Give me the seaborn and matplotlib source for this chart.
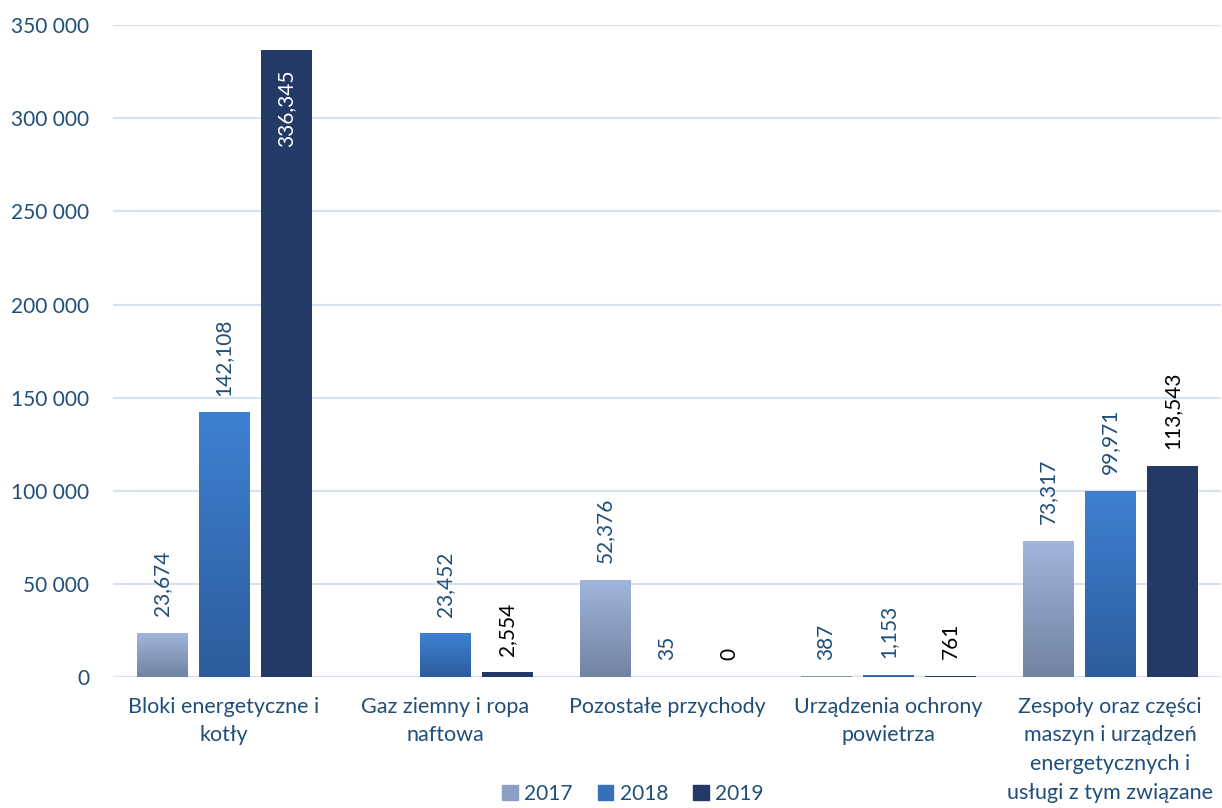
import numpy as np
import pandas as pd
import matplotlib
matplotlib.use("Agg")
import matplotlib.pyplot as plt
import matplotlib.patches as mpatches
from matplotlib.colors import LinearSegmentedColormap
import seaborn as sns

# dane
kategorie = ["Bloki energetyczne i\nkotły",
             "Gaz ziemny i ropa\nnaftowa",
             "Pozostałe przychody",
             "Urządzenia ochrony\npowietrza",
             "Zespoły oraz części\nmaszyn i urządzeń\nenergetycznych i\nusługi z tym związane"]
lata = ["2017", "2018", "2019"]
w2017 = [23674, 0, 52376, 387, 73317]
w2018 = [142108, 23452, 35, 1153, 99971]
w2019 = [336345, 2554, 0, 761, 113543]
etykiety_2017 = ["23,674", "", "52,376", "387", "73,317"]
etykiety_2018 = ["142,108", "23,452", "35", "1,153", "99,971"]
etykiety_2019 = ["336,345", "2,554", "0", "761", "113,543"]
y_ticks = [0, 50000, 100000, 150000, 200000, 250000, 300000, 350000]

df = pd.DataFrame({
    "kategoria": kategorie * 3,
    "rok": [r for r in lata for _ in kategorie],
    "wartosc": w2017 + w2018 + w2019,
})

# kolory (gradient gora -> dol)
gradienty = {
    "2017": ("#A1B6DD", "#7283A2"),
    "2018": ("#3E81D2", "#2D5C9C"),
    "2019": ("#233A66", "#233A66"),
}
paleta = {r: gradienty[r][0] for r in lata}
niebieski_tekst = "#1F4E79"

sns.set_theme(style="white")
plt.rcParams["font.family"] = ["Lato", "DejaVu Sans"]

fig = plt.figure(figsize=(12.22, 8.08), dpi=100)
ax = fig.add_axes([0.0925, 0.162, 0.9065, 0.807])

sns.barplot(data=df, x="kategoria", y="wartosc", hue="rok", palette=paleta,
            width=0.84, gap=0.19, ax=ax, legend=False, linewidth=0)

ax.set_ylim(0, 350000)
xlim = ax.get_xlim()

# gradient na slupkach
for rok, cont in zip(lata, ax.containers):
    cmap = LinearSegmentedColormap.from_list(rok, [gradienty[rok][1], gradienty[rok][0]])
    for p in cont.patches:
        x0, w, h = p.get_x(), p.get_width(), p.get_height()
        if h <= 0:
            continue
        grad = np.linspace(0, 1, 100).reshape(-1, 1)
        im = ax.imshow(grad, extent=[x0, x0 + w, 0, h], origin="lower",
                       cmap=cmap, aspect="auto", zorder=p.get_zorder() + 0.1)
        im.set_clip_path(p)

ax.set_xlim(xlim)
ax.set_ylim(0, 350000)

# etykiety danych
for rok, cont, ety in zip(lata, ax.containers, [etykiety_2017, etykiety_2018, etykiety_2019]):
    for p, t in zip(cont.patches, ety):
        if t == "":
            continue
        xc = p.get_x() + p.get_width() / 2
        h = p.get_height()
        if rok == "2019" and h > 300000:
            ax.annotate(t, (xc, h), xytext=(0, -14), textcoords="offset points",
                        rotation=90, ha="center", va="top", fontsize=15, color="white", zorder=5)
        else:
            kolor = "black" if rok == "2019" else niebieski_tekst
            ax.annotate(t, (xc, h), xytext=(0, 12), textcoords="offset points",
                        rotation=90, ha="center", va="bottom", fontsize=15, color=kolor, zorder=5)

# osie
ax.set_yticks(y_ticks)
ax.set_yticklabels([f"{v:,}".replace(",", " ") for v in y_ticks])
ax.yaxis.grid(True, color="#D6E2F2", linewidth=1.5)
ax.set_axisbelow(True)
for s in ax.spines.values():
    s.set_visible(False)
ax.axhline(0, color="#D6E2F2", linewidth=1.5, zorder=0.5)
ax.tick_params(axis="y", length=0, pad=17, labelsize=15, labelcolor=niebieski_tekst)
ax.tick_params(axis="x", length=0, pad=14, labelsize=15.5, labelcolor=niebieski_tekst)
for lab in ax.get_xticklabels():
    lab.set_linespacing(1.55)
ax.set_xlabel("")
ax.set_ylabel("")

# legenda
uchwyty = [mpatches.Patch(color="#8C9FC4", label="2017"),
           mpatches.Patch(color="#3670BA", label="2018"),
           mpatches.Patch(color=gradienty["2019"][0], label="2019")]
leg = fig.legend(handles=uchwyty, loc="lower center", bbox_to_anchor=(0.518, -0.018), ncol=3,
                 frameon=False, fontsize=15, handlelength=0.75, handleheight=0.75,
                 handletextpad=0.3, columnspacing=1.2)
for t in leg.get_texts():
    t.set_color(niebieski_tekst)

fig.savefig("out.png", dpi=100)
